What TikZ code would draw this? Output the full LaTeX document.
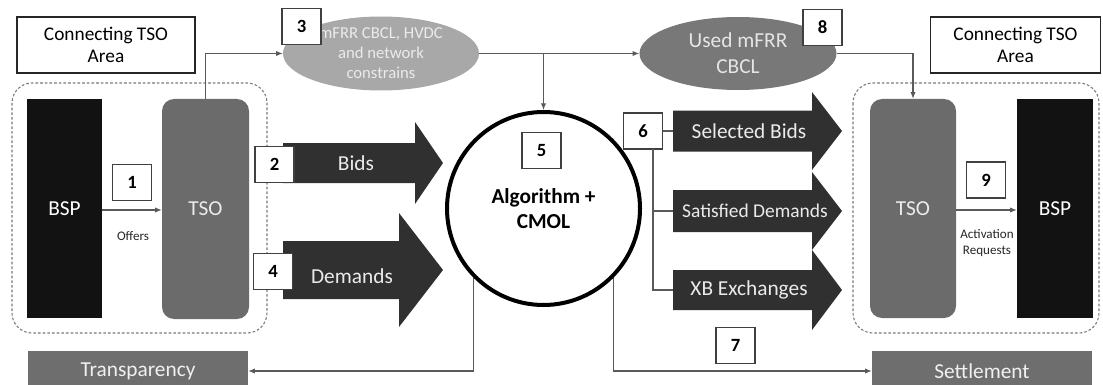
\documentclass[tikz,border=0pt]{standalone}
\usepackage{fontspec}
\setmainfont{Carlito}
\usetikzlibrary{arrows.meta,shapes.geometric}
\definecolor{bspfill}{HTML}{121212}
\definecolor{tsofill}{HTML}{6B6B6B}
\definecolor{arrfill}{HTML}{303030}
\definecolor{ellight}{HTML}{A8A8A8}
\definecolor{eldark}{HTML}{787878}
\definecolor{barfill}{HTML}{6E6E6E}
\definecolor{linecol}{HTML}{5A5A5A}
\definecolor{boxline}{HTML}{404040}
\definecolor{dashcol}{HTML}{7A7A7A}
% block arrow: x-start, x-head, x-tip, y-centre, half body, half head
\newcommand{\blockarr}[6]{%
  \fill[arrfill] (#1,#4-#5) -- (#2,#4-#5) -- (#2,#4-#6) -- (#3,#4)
    -- (#2,#4+#6) -- (#2,#4+#5) -- (#1,#4+#5) -- cycle;}
\begin{document}
\begin{tikzpicture}[x=0.75pt,y=-0.75pt,
  numbox/.style={draw=boxline, line width=1.1pt, fill=white, inner sep=0pt,
    minimum width=39*0.75pt, minimum height=36*0.75pt,
    font=\bfseries\fontsize{14}{16}\selectfont},
  titlebox/.style={draw=black!85, line width=1.4pt, fill=white, align=center,
    minimum height=56*0.75pt, font=\fontsize{14.5}{16.5}\selectfont},
  area/.style={draw=dashcol, line width=0.8pt, dash pattern=on 2pt off 1.5pt,
    rounded corners=15pt},
  bsp/.style={fill=bspfill, text=white, minimum width=75*0.75pt,
    minimum height=219*0.75pt, font=\fontsize{16}{18}\selectfont},
  tso/.style={fill=tsofill, text=white!92!black, rounded corners=9pt,
    minimum width=87*0.75pt, minimum height=220*0.75pt,
    font=\fontsize{16}{18}\selectfont},
  bar/.style={fill=barfill, text=white!94!black, minimum width=220*0.75pt,
    minimum height=40*0.75pt, font=\fontsize{16}{18}\selectfont},
  arrtext/.style={text=white!92!black, font=\fontsize{16}{18}\selectfont, inner sep=0pt},
  small/.style={align=center, text=black!85, font=\fontsize{9.8}{12}\selectfont},
  conn/.style={draw=linecol, line width=0.8pt, -{Latex[length=5pt,width=4pt]}},
  link/.style={draw=linecol, line width=0.8pt},
]
\useasboundingbox (0,0) rectangle (1103,385);
\clip (0,0) rectangle (1103,385);

% connecting TSO areas
\draw[area] (12,83) rectangle (267,333);
\draw[area] (853,83) rectangle (1099,333);
\node[titlebox, minimum width=178*0.75pt] (titleL) at (106,45) {Connecting TSO\\Area};
\node[titlebox, minimum width=170*0.75pt] (titleR) at (1015.5,45) {Connecting TSO\\Area};

% parties
\node[bsp] (bspL) at (64.5,208.5) {BSP};
\node[tso] (tsoL) at (205.5,209) {TSO};
\node[tso, minimum width=86*0.75pt, minimum height=219*0.75pt] (tsoR) at (913,208.5) {TSO};
\node[bsp, minimum width=76*0.75pt] (bspR) at (1055,208.5) {BSP};

% constraints and used capacity
\node[ellipse, fill=ellight, text=white!92!black, inner sep=0pt,
  minimum width=196*0.75pt, minimum height=74*0.75pt, align=center,
  font=\fontsize{12.5}{15}\selectfont] (ell3) at (381,53.5)
  {mFRR CBCL, HVDC\\and network\\constrains};
\node[ellipse, fill=eldark, text=white!90!black, inner sep=0pt,
  minimum width=197*0.75pt, minimum height=73*0.75pt, align=center,
  font=\fontsize{16}{19.5}\selectfont] (ell8) at (738,53.5)
  {Used mFRR\\CBCL};

% optimisation
\node[circle, draw=black, line width=3pt, fill=white, minimum size=193*0.75pt,
  align=center, font=\bfseries\fontsize{16}{19}\selectfont] (alg) at (543.5,208.5)
  {Algorithm +\\CMOL};

% block arrows
\blockarr{283}{415}{443}{163}{20}{41}
\blockarr{283}{399}{443}{270}{29}{57}
\blockarr{673}{812}{842}{131}{20.5}{39}
\blockarr{673}{812}{842}{211}{21}{39}
\blockarr{673}{812}{842}{290}{20}{40}
\node[arrtext] (bids) at (356,163) {Bids};
\node[arrtext] (dem) at (352,276) {Demands};
\node[arrtext] (sel) at (749,131) {Selected Bids};
\node[arrtext, font=\fontsize{14.6}{17}\selectfont] (sat) at (755,211) {Satisfied Demands};
\node[arrtext] (xbe) at (749,290) {XB Exchanges};
\coordinate (selL) at (673,131);
\coordinate (satL) at (673,211);
\coordinate (xbL) at (673,290);

% publication bars
\node[bar] (trans) at (138,371) {Transparency};
\node[bar] (settle) at (982,371) {Settlement};

% connectors
\draw[conn] (bspL.east |- 0,210) -- (tsoL.west |- 0,210);
\node[small] (offers) at (133,236) {Offers};
\draw[conn] (tsoL.north) |- (ell3.west);
\draw[conn] (ell3.east) -- (ell8.west);
\coordinate (split) at (ell3.east -| alg.north);
\draw[conn] (split) -- (alg.north);
\draw[conn] (ell8.east) -| (tsoR.north);
\draw[conn] (tsoR.east |- 0,210) -- (bspR.west |- 0,210);
\node[small] (actreq) at (987,243) {Activation\\Requests};
\draw[conn] (alg.south west) |- (trans.east);
\draw[conn] (alg.south east) |- (settle.west);

% step numbers
\node[numbox] (n1) at (132,182.5) {1};
\node[numbox] (n2) at (274.5,164.5) {2};
\node[numbox] (n3) at (301.5,26.5) {3};
\node[numbox] (n4) at (273,271.5) {4};
\node[numbox] (n5) at (541.5,150.5) {5};
\node[numbox] (n6) at (643,131) {6};
\node[numbox] (n7) at (735.5,345.5) {7};
\node[numbox] (n8) at (822.5,27.5) {8};
\node[numbox] (n9) at (986,180) {9};

% results fan-out from step 6
\coordinate (fan) at (653,149);
\draw[link] (n6.east) -- (selL);
\draw[link] (fan) |- (satL);
\draw[link] (fan) |- (xbL);
\end{tikzpicture}
\end{document}
